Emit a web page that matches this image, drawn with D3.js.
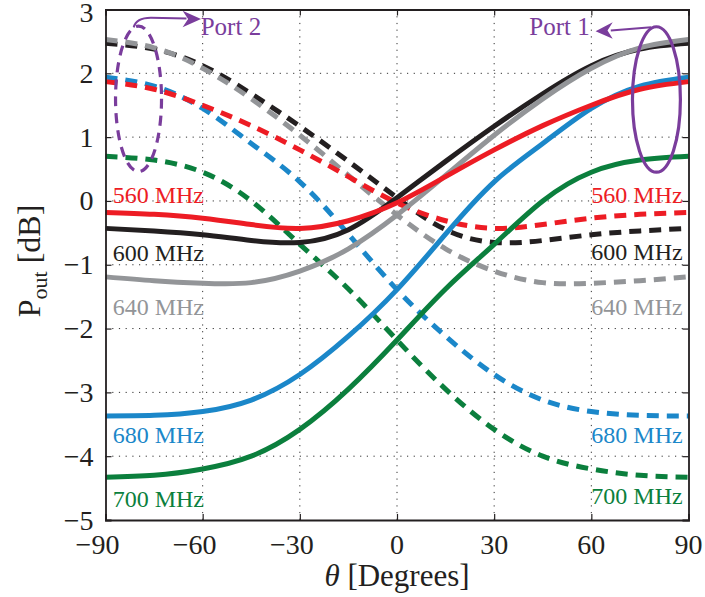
<!DOCTYPE html>
<html>
<head>
<meta charset="utf-8">
<script src="https://cdn.jsdelivr.net/npm/d3@7/dist/d3.min.js"></script>
<style>
  html, body { margin: 0; padding: 0; background: #fff; }
  svg { display: block; }
  text { font-family: "Liberation Serif", "Times New Roman", serif; }
</style>
</head>
<body>
<div id="chart"></div>
<script>
// Steering angle samples (degrees)
const theta = [-90, -75, -60, -45, -30, -15, 0, 15, 30, 45, 60, 75, 90];

// Output power at Port 1 (solid curves), dB
const port1_560 = [-0.18, -0.21, -0.27, -0.37, -0.43, -0.31, -0.03, 0.38, 0.80, 1.18, 1.50, 1.75, 1.87];
const port1_600 = [-0.43, -0.47, -0.53, -0.62, -0.65, -0.45, 0.05, 0.62, 1.17, 1.68, 2.12, 2.38, 2.47];
const port1_640 = [-1.19, -1.25, -1.29, -1.28, -1.10, -0.75, -0.22, 0.40, 1.03, 1.60, 2.08, 2.40, 2.53];
const port1_680 = [-3.37, -3.36, -3.30, -3.12, -2.72, -2.12, -1.39, -0.52, 0.30, 0.90, 1.45, 1.80, 1.94];
const port1_700 = [-4.33, -4.30, -4.20, -4.00, -3.58, -2.95, -2.18, -1.38, -0.68, 0.00, 0.45, 0.64, 0.70];

// Output power at Port 2 (dashed curves), dB
const port2_560 = [1.87, 1.75, 1.50, 1.18, 0.80, 0.38, -0.03, -0.31, -0.43, -0.37, -0.27, -0.21, -0.18];
const port2_600 = [2.47, 2.38, 2.12, 1.68, 1.17, 0.62, 0.05, -0.45, -0.65, -0.62, -0.53, -0.47, -0.43];
const port2_640 = [2.53, 2.40, 2.08, 1.60, 1.03, 0.40, -0.22, -0.75, -1.10, -1.28, -1.29, -1.25, -1.19];
const port2_680 = [1.94, 1.80, 1.45, 0.90, 0.30, -0.52, -1.39, -2.12, -2.72, -3.12, -3.30, -3.36, -3.37];
const port2_700 = [0.70, 0.64, 0.45, 0.00, -0.68, -1.38, -2.18, -2.95, -3.58, -4.00, -4.20, -4.30, -4.33];

const frequencies = ["560 MHz", "600 MHz", "640 MHz", "680 MHz", "700 MHz"];
const colors = ["#ed1c24", "#231f20", "#939598", "#1b87c9", "#0b7f3d"];

const xTicks = [-90, -60, -30, 0, 30, 60, 90];
const yTicks = [-5, -4, -3, -2, -1, 0, 1, 2, 3];

// Left / right label baselines (dB) for each frequency
const labelLeftY = [-0.03, -0.94, -1.78, -3.8, -4.8];
const labelRightY = [-0.03, -0.92, -1.78, -3.8, -4.75];

const W = 705, H = 597;
const m = { left: 105.5, right: 688.5, top: 9.5, bottom: 520 };

const svg = d3.select("#chart").append("svg")
  .attr("width", W).attr("height", H);

const x = d3.scaleLinear().domain([-90, 90]).range([m.left, m.right]);
const y = d3.scaleLinear().domain([-5, 3]).range([m.bottom, m.top]);

// Dotted grid
const grid = svg.append("g").attr("stroke", "#333").attr("stroke-width", 1)
  .attr("stroke-dasharray", "1.2,5.5");
xTicks.slice(1, -1).forEach(t => grid.append("line")
  .attr("x1", x(t)).attr("x2", x(t)).attr("y1", m.top).attr("y2", m.bottom));
yTicks.slice(1, -1).forEach(t => grid.append("line")
  .attr("y1", y(t)).attr("y2", y(t)).attr("x1", m.left).attr("x2", m.right));

// Curves
const line = d3.line().x((d, i) => x(theta[i])).y(d => y(d)).curve(d3.curveNatural);
const solid = [port1_560, port1_600, port1_640, port1_680, port1_700];
const dashed = [port2_560, port2_600, port2_640, port2_680, port2_700];
const order = [4, 3, 1, 2, 0];

const curves = svg.append("g").attr("fill", "none").attr("stroke-width", 5);
order.forEach(k => {
  curves.append("path").attr("d", line(dashed[k])).attr("stroke", colors[k])
    .attr("stroke-dasharray", "12,8");
});
order.forEach(k => {
  curves.append("path").attr("d", line(solid[k])).attr("stroke", colors[k]);
});

// Axes box with inward ticks
const axisG = svg.append("g");
const xAxisB = d3.axisBottom(x).tickValues(xTicks).tickSize(-6).tickFormat("");
const xAxisT = d3.axisTop(x).tickValues(xTicks).tickSize(-6).tickFormat("");
const yAxisL = d3.axisLeft(y).tickValues(yTicks).tickSize(-6).tickFormat("");
const yAxisR = d3.axisRight(y).tickValues(yTicks).tickSize(-6).tickFormat("");
axisG.append("g").attr("transform", `translate(0,${m.bottom})`).call(xAxisB);
axisG.append("g").attr("transform", `translate(0,${m.top})`).call(xAxisT);
axisG.append("g").attr("transform", `translate(${m.left},0)`).call(yAxisL);
axisG.append("g").attr("transform", `translate(${m.right},0)`).call(yAxisR);
axisG.selectAll(".domain").attr("stroke", "#231f20").attr("stroke-width", 1.8);
axisG.selectAll(".tick line").attr("stroke", "#231f20").attr("stroke-width", 1.2);

// Tick labels
const fmt = v => (v < 0 ? "\u2212" + Math.abs(v) : String(v));
svg.append("g").selectAll("text").data(xTicks).join("text")
  .attr("x", d => x(d)).attr("y", 554)
  .attr("dx", d => d < 0 ? -8 : 0)
  .attr("text-anchor", "middle").attr("font-size", 28).attr("fill", "#231f20")
  .text(fmt);
svg.append("g").selectAll("text").data(yTicks).join("text")
  .attr("x", m.left - 12).attr("y", d => Math.max(y(d) + 9.5, 22))
  .attr("text-anchor", "end").attr("font-size", 28).attr("fill", "#231f20")
  .text(fmt);

// Axis titles
const xt = svg.append("text").attr("x", 397).attr("y", 586)
  .attr("text-anchor", "middle").attr("font-size", 31).attr("fill", "#231f20");
xt.append("tspan").attr("font-style", "italic").text("\u03b8");
xt.append("tspan").text(" [Degrees]");

const yt = svg.append("text").attr("transform", "translate(40,261) rotate(-90)")
  .attr("text-anchor", "middle").attr("font-size", 32).attr("fill", "#231f20");
yt.append("tspan").text("P");
yt.append("tspan").attr("font-size", 22).attr("dy", 7).text("out");
yt.append("tspan").attr("dy", -7).text(" [dB]");

// Frequency labels
const labels = svg.append("g").attr("font-size", 24);
frequencies.forEach((f, k) => {
  labels.append("text").attr("x", x(-87.8)).attr("y", y(labelLeftY[k]))
    .attr("fill", colors[k]).text(f);
  labels.append("text").attr("x", x(88.2)).attr("y", y(labelRightY[k]))
    .attr("text-anchor", "end").attr("fill", colors[k]).text(f);
});

// Port annotations
const purple = "#7a3d9c";
const ann = svg.append("g");
// Port 2 (dashed ellipse)
ann.append("ellipse").attr("cx", x(-79.8)).attr("cy", y(1.6))
  .attr("rx", x(-72.7) - x(-79.8)).attr("ry", y(0.46) - y(1.6))
  .attr("fill", "none").attr("stroke", purple).attr("stroke-width", 3.2)
  .attr("stroke-dasharray", "10,7");
ann.append("path")
  .attr("d", `M${x(-81.3)},${y(2.72)} Q${x(-80.5)},${y(2.87)} ${x(-76)},${y(2.87)} L${x(-65)},${y(2.86)}`)
  .attr("fill", "none").attr("stroke", purple).attr("stroke-width", 2);
ann.append("path")
  .attr("d", `M${x(-60.5)},${y(2.85)} L${x(-66.2)},${y(2.98)} L${x(-64.5)},${y(2.85)} L${x(-66.2)},${y(2.72)} Z`)
  .attr("fill", purple);
ann.append("text").attr("x", x(-60.6)).attr("y", y(2.6)).attr("font-size", 25)
  .attr("fill", purple).text("Port 2");
// Port 1 (solid ellipse)
ann.append("ellipse").attr("cx", x(80.1)).attr("cy", y(1.59))
  .attr("rx", x(87.5) - x(80.1)).attr("ry", y(0.45) - y(1.59))
  .attr("fill", "none").attr("stroke", purple).attr("stroke-width", 3.2);
ann.append("path")
  .attr("d", `M${x(78.5)},${y(2.72)} L${x(66)},${y(2.67)}`)
  .attr("fill", "none").attr("stroke", purple).attr("stroke-width", 2);
ann.append("path")
  .attr("d", `M${x(61.3)},${y(2.66)} L${x(66.6)},${y(2.8)} L${x(65)},${y(2.67)} L${x(66.6)},${y(2.54)} Z`)
  .attr("fill", purple);
ann.append("text").attr("x", x(59.5)).attr("y", y(2.6)).attr("font-size", 25)
  .attr("text-anchor", "end").attr("fill", purple).text("Port 1");
</script>
</body>
</html>
